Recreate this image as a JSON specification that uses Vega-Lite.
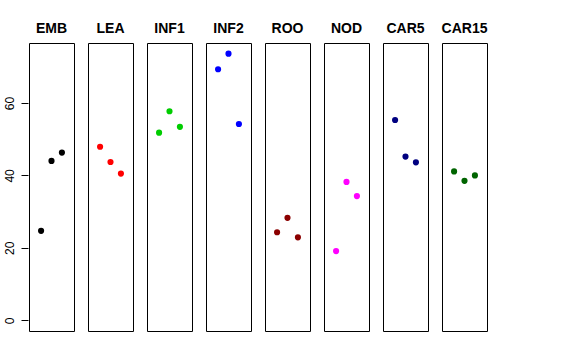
{
  "$schema": "https://vega.github.io/schema/vega-lite/v6.json",
  "autosize": {"type": "pad"},
  "padding": {"left": 3, "top": 22, "right": 5, "bottom": 5},
  "background": "white",
  "data": {"values": [
    {"tissue": "EMB", "rep": 1, "value": 24.7},
    {"tissue": "EMB", "rep": 2, "value": 44.0},
    {"tissue": "EMB", "rep": 3, "value": 46.3},
    {"tissue": "LEA", "rep": 1, "value": 47.9},
    {"tissue": "LEA", "rep": 2, "value": 43.7},
    {"tissue": "LEA", "rep": 3, "value": 40.5},
    {"tissue": "INF1", "rep": 1, "value": 51.8},
    {"tissue": "INF1", "rep": 2, "value": 57.7},
    {"tissue": "INF1", "rep": 3, "value": 53.4},
    {"tissue": "INF2", "rep": 1, "value": 69.3},
    {"tissue": "INF2", "rep": 2, "value": 73.6},
    {"tissue": "INF2", "rep": 3, "value": 54.2},
    {"tissue": "ROO", "rep": 1, "value": 24.3},
    {"tissue": "ROO", "rep": 2, "value": 28.3},
    {"tissue": "ROO", "rep": 3, "value": 22.9},
    {"tissue": "NOD", "rep": 1, "value": 19.1},
    {"tissue": "NOD", "rep": 2, "value": 38.2},
    {"tissue": "NOD", "rep": 3, "value": 34.3},
    {"tissue": "CAR5", "rep": 1, "value": 55.3},
    {"tissue": "CAR5", "rep": 2, "value": 45.2},
    {"tissue": "CAR5", "rep": 3, "value": 43.6},
    {"tissue": "CAR15", "rep": 1, "value": 41.1},
    {"tissue": "CAR15", "rep": 2, "value": 38.5},
    {"tissue": "CAR15", "rep": 3, "value": 40.0}
  ]},
  "facet": {
    "column": {
      "field": "tissue",
      "type": "nominal",
      "sort": ["EMB", "LEA", "INF1", "INF2", "ROO", "NOD", "CAR5", "CAR15"],
      "header": {
        "title": null,
        "labelFont": "Liberation Sans",
        "labelFontWeight": "bold",
        "labelFontSize": 14,
        "labelColor": "black",
        "labelPadding": 6
      }
    }
  },
  "spacing": 12,
  "spec": {
    "width": 45,
    "height": 288,
    "mark": {"type": "circle", "size": 38, "opacity": 1},
    "encoding": {
      "x": {
        "field": "rep",
        "type": "quantitative",
        "scale": {"domain": [-0.16, 4.16], "nice": false, "zero": false},
        "axis": null
      },
      "y": {
        "field": "value",
        "type": "quantitative",
        "scale": {"domain": [-2.95, 76.55], "nice": false, "zero": false},
        "axis": {
          "title": null,
          "values": [0, 20, 40, 60],
          "grid": false,
          "domain": false,
          "tickSize": 7,
          "tickColor": "black",
          "labelAngle": 270,
          "labelAlign": "center",
          "labelBaseline": "bottom",
          "labelPadding": 5,
          "labelFont": "Liberation Sans",
          "labelFontSize": 12,
          "labelColor": "black",
          "minExtent": 24,
          "maxExtent": 24
        }
      },
      "color": {
        "field": "tissue",
        "type": "nominal",
        "scale": {
          "domain": ["EMB", "LEA", "INF1", "INF2", "ROO", "NOD", "CAR5", "CAR15"],
          "range": ["#000000", "#FF0000", "#00CD00", "#0000FF", "#8B0000", "#FF00FF", "#000080", "#006400"]
        },
        "legend": null
      }
    }
  },
  "config": {
    "view": {"stroke": "black", "strokeWidth": 1}
  }
}
